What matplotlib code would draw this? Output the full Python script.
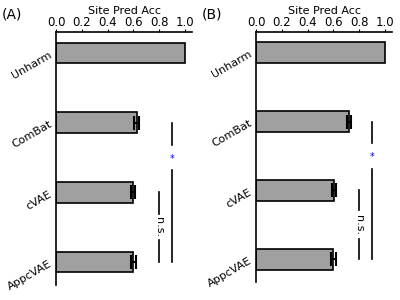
import matplotlib
matplotlib.use("Agg")
import matplotlib.pyplot as plt
import numpy as np

categories = ["Unharm", "ComBat", "cVAE", "AppcVAE"]
acc_A = [1.0, 0.625, 0.595, 0.60]
err_A = [0.0, 0.017, 0.017, 0.017]
acc_B = [1.0, 0.72, 0.605, 0.60]
err_B = [0.0, 0.017, 0.017, 0.017]
xticks = [0.0, 0.2, 0.4, 0.6, 0.8, 1.0]
panel_labels = ["(A)", "(B)"]

fig = plt.figure(figsize=(4, 3), dpi=100)
axA = fig.add_axes([0.14, 0.05, 0.34, 0.843])
axB = fig.add_axes([0.64, 0.06, 0.34, 0.833])

def draw(ax, acc, err, label, star_gap, ns_gap):
    y = np.arange(len(categories))
    acc = np.asarray(acc)
    err = np.asarray(err)
    ax.barh(y, acc, height=0.3, color="#a0a0a0", edgecolor="black", linewidth=1.2)
    m = err > 0
    ax.errorbar(acc[m], y[m], xerr=err[m], fmt="none", ecolor="black",
                elinewidth=1.5, capsize=5, capthick=1.5)
    ax.set_ylim(3.33, -0.3)
    ax.set_xlim(0, 1.055)
    ax.set_yticks(y)
    ax.set_yticklabels(categories, rotation=30, ha="right", rotation_mode="anchor", fontsize=8)
    ax.tick_params(axis="y", length=0, pad=4)
    ax.xaxis.tick_top()
    ax.xaxis.set_label_position("top")
    ax.set_xticks(xticks)
    ax.set_xticklabels([f"{t:.1f}" for t in xticks], fontsize=8.5)
    ax.tick_params(axis="x", length=2, pad=0.5, width=0.8)
    ax.set_xlabel("Site Pred Acc", fontsize=8, labelpad=1.5)
    for s in ["right", "bottom"]:
        ax.spines[s].set_visible(False)
    for s in ["left", "top"]:
        ax.spines[s].set_linewidth(1.2)
    # significance: * between ComBat and AppcVAE
    x1 = 0.90
    ax.plot([x1, x1], [1.0, 1.5 - star_gap], color="black", lw=1.2, clip_on=False)
    ax.plot([x1, x1], [1.5 + star_gap, 3.0], color="black", lw=1.2, clip_on=False)
    ax.text(x1, 1.52, "*", color="blue", fontsize=7, ha="center", va="center", clip_on=False)
    # n.s. between cVAE and AppcVAE
    x2 = 0.80
    ax.plot([x2, x2], [2.0, 2.5 - ns_gap], color="black", lw=1.2, clip_on=False)
    ax.plot([x2, x2], [2.5 + ns_gap, 3.0], color="black", lw=1.2, clip_on=False)
    ax.text(x2, 2.5, "n.s.", color="black", fontsize=8, rotation=270, ha="center", va="center", clip_on=False)
    fig.text(ax.get_position().x0 - 0.135, 0.975, label, fontsize=10, ha="left", va="top")

draw(axA, acc_A, err_A, panel_labels[0], 0.18, 0.19)
draw(axB, acc_B, err_B, panel_labels[1], 0.19, 0.21)

fig.savefig("out.png", dpi=100)
